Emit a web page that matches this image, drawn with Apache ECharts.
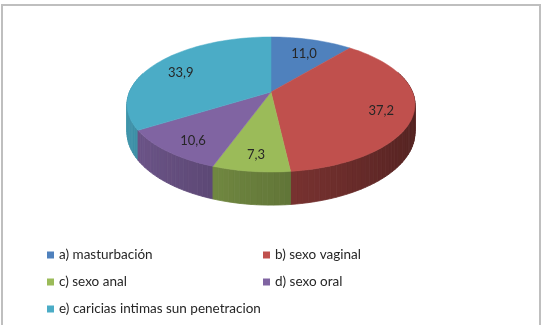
<!DOCTYPE html>
<html>
<head>
<meta charset="utf-8">
<script src="https://cdn.jsdelivr.net/npm/echarts@6/dist/echarts.min.js"></script>
<style>
html, body { margin: 0; padding: 0; background: #fff; }
#chart { width: 548px; height: 325px; }
</style>
</head>
<body>
<div id="chart"></div>
<script>
const categories = ['a) masturbación', 'b) sexo vaginal', 'c) sexo anal', 'd) sexo oral', 'e) caricias intimas sun penetracion']
const values = [11.0, 37.2, 7.3, 10.6, 33.9]
const valueLabels = ['11,0', '37,2', '7,3', '10,6', '33,9']
const colors = ['#4F81BD', '#C0504D', '#9BBB59', '#8064A2', '#4BACC6']

// pie geometry, a perspective ellipse like the Excel 3D pie
const cx = 271, cy = 92, rx = 141.5, ry = 65.2, persp = 0.185, depth = 27
const labelRadius = 0.78
const font = 'Lato'

const total = values.reduce((a, b) => a + b, 0)
const starts = []
let acc = 0
values.forEach(v => { starts.push(acc); acc += v })

const proj = (theta, f, drop) => {
	const s = Math.sin(theta), c = Math.cos(theta)
	const k = 1 + persp * f * c
	return [cx + rx * f * s / k, cy - ry * f * c / k + (drop || 0) / k]
}

const shade = (hex, f) => {
	const n = parseInt(hex.slice(1), 16)
	const ch = [(n >> 16) & 255, (n >> 8) & 255, n & 255].map(x => Math.round(Math.min(255, x * f)))
	return 'rgb(' + ch.join(',') + ')'
}

const renderItem = (params, api) => {
	const v = api.value(0), start = api.value(1)
	const a0 = start / total * 2 * Math.PI
	const a1 = (start + v) / total * 2 * Math.PI
	const color = api.visual('color')
	const children = []
	const n = Math.max(2, Math.ceil((a1 - a0) / (Math.PI / 90)))

	const top = [[cx, cy]]
	for (let i = 0; i <= n; i++) top.push(proj(a0 + (a1 - a0) * i / n, 1))
	children.push({
		type: 'polygon',
		shape: { points: top },
		style: { fill: color, stroke: color, lineWidth: 0.5 },
		z2: 1000
	})

	// outer wall, drawn far to near
	for (let i = 0; i < n; i++) {
		const t0 = a0 + (a1 - a0) * i / n
		const t1 = a0 + (a1 - a0) * (i + 1) / n
		const tm = (t0 + t1) / 2
		if (Math.cos(tm) > 0.3) continue
		const fc = shade(color, 0.65 - 0.22 * Math.sin(tm))
		children.push({
			type: 'polygon',
			shape: { points: [proj(t0, 1), proj(t1, 1), proj(t1, 1, depth), proj(t0, 1, depth)] },
			style: { fill: fc, stroke: fc, lineWidth: 0.8 },
			z2: Math.round(500 - Math.cos(tm) * 400)
		})
	}

	const lp = proj((a0 + a1) / 2, labelRadius)
	children.push({
		type: 'text',
		x: lp[0],
		y: lp[1] + 4,
		z2: 1100,
		style: {
			text: valueLabels[params.seriesIndex],
			fill: '#262626',
			font: '13px ' + font,
			align: 'center',
			verticalAlign: 'middle'
		}
	})
	return { type: 'group', children }
}

const legendBase = {
	orient: 'vertical',
	top: 247,
	height: 90,
	padding: 0,
	icon: 'rect',
	itemWidth: 7,
	itemHeight: 7,
	itemGap: 11,
	selectedMode: false,
	textStyle: { fontFamily: font, fontSize: 13.5, color: '#262626', lineHeight: 16 }
}

const chart = echarts.init(document.getElementById('chart'), null, { renderer: 'canvas' })
chart.setOption({
	animation: false,
	legend: [
		Object.assign({}, legendBase, { left: 47, data: [categories[0], categories[2], categories[4]] }),
		Object.assign({}, legendBase, { left: 263, data: [categories[1], categories[3]] })
	],
	graphic: [{
		type: 'rect',
		shape: { x: 2, y: 5, width: 538, height: 340 },
		style: { fill: 'none', stroke: '#bfbfbf', lineWidth: 2 },
		silent: true
	}],
	series: categories.map((name, i) => ({
		type: 'custom',
		name: name,
		coordinateSystem: 'none',
		itemStyle: { color: colors[i] },
		data: [[values[i], starts[i]]],
		renderItem: renderItem
	}))
})
</script>
</body>
</html>
